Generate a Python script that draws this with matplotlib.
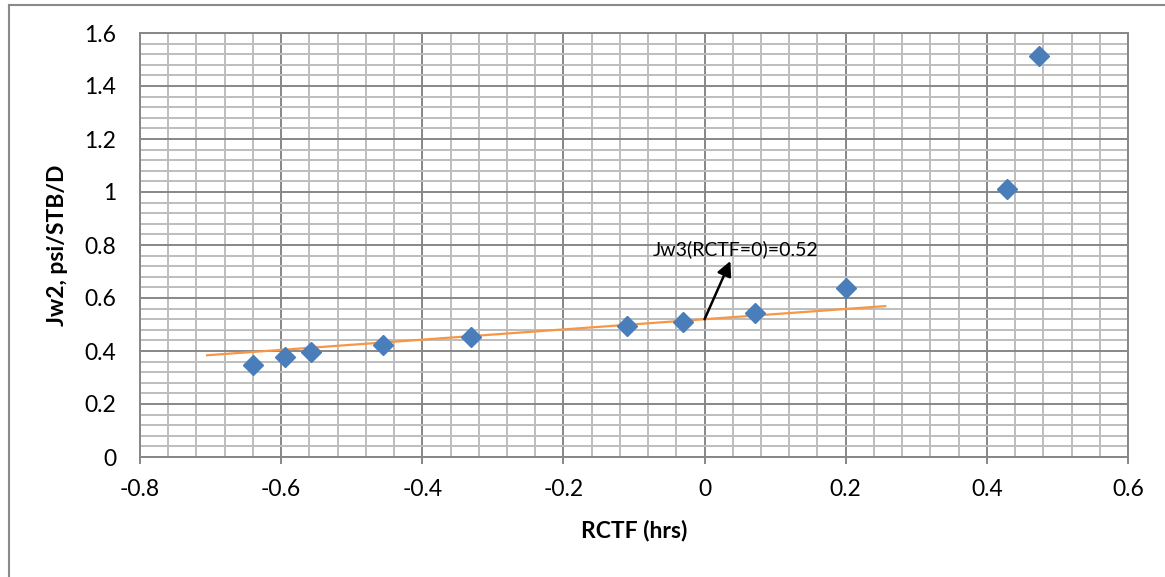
import matplotlib
matplotlib.use("Agg")
import matplotlib.pyplot as plt
from matplotlib.lines import Line2D
from matplotlib.ticker import MultipleLocator, FixedLocator
import numpy as np

plt.rcParams['font.family'] = ['Lato', 'DejaVu Sans']

# Measured well data
rctf = [-0.640, -0.595, -0.558, -0.456, -0.331, -0.110, -0.031, 0.071, 0.200, 0.428, 0.474]
jw2 = [0.347, 0.377, 0.396, 0.423, 0.453, 0.494, 0.509, 0.543, 0.638, 1.011, 1.513]

# Linear trend through the early-time points
trend_x = [-0.705, 0.256]
trend_intercept = 0.52
trend_slope = 0.193

x_ticks = [-0.8, -0.6, -0.4, -0.2, 0.0, 0.2, 0.4, 0.6]
x_tick_labels = ["-0.8", "-0.6", "-0.4", "-0.2", "0", "0.2", "0.4", "0.6"]
y_ticks = [0.0, 0.2, 0.4, 0.6, 0.8, 1.0, 1.2, 1.4, 1.6]
y_tick_labels = ["0", "0.2", "0.4", "0.6", "0.8", "1", "1.2", "1.4", "1.6"]

annot_text = "Jw3(RCTF=0)=0.52"

W, H = 1165, 577
fig = plt.figure(figsize=(W / 100, H / 100), dpi=100)
ax = fig.add_axes([140 / W, 1 - 457 / H, (1128 - 140) / W, (457 - 33) / H])

ax.set_xlim(-0.8, 0.6)
ax.set_ylim(0, 1.6)

major_c = "#878787"
minor_c = "#bdbdbd"

ax.xaxis.set_major_locator(FixedLocator(x_ticks))
ax.yaxis.set_major_locator(FixedLocator(y_ticks))
ax.xaxis.set_minor_locator(MultipleLocator(0.04))
ax.yaxis.set_minor_locator(MultipleLocator(0.04))
ax.set_xticklabels(x_tick_labels)
ax.set_yticklabels(y_tick_labels)

ax.grid(which="minor", color=minor_c, lw=1.4, zorder=0)
ax.grid(which="major", color=major_c, lw=1.4, zorder=0)
ax.set_axisbelow(True)

for s in ax.spines.values():
    s.set_color(major_c)
    s.set_linewidth(1.4)

ax.tick_params(axis="x", which="major", direction="out", length=5, width=1.4,
               color=major_c, pad=11, labelsize=16.5, labelcolor="black")
ax.tick_params(axis="y", which="major", length=0, pad=17, labelsize=16.5, labelcolor="black")
ax.tick_params(which="minor", length=0)

# Trend line
tx = np.array(trend_x)
ax.plot(tx, trend_intercept + trend_slope * tx, color="#F79646", lw=1.6, zorder=3)

# Data points
ax.plot(rctf, jw2, linestyle="none", marker="D", markersize=10,
        color="#4A7EBB", markeredgecolor="#4A7EBB", zorder=4)

# Intercept annotation
ax.annotate(annot_text, xy=(0.0, trend_intercept), xytext=(0.044, 0.75),
            ha="center", va="bottom", fontsize=14, color="black",
            arrowprops=dict(arrowstyle="<|-", color="black", lw=1.8,
                            mutation_scale=22, shrinkA=0, shrinkB=0),
            zorder=5)

ax.set_xlabel("RCTF (hrs)", fontsize=16.5, fontweight="bold", labelpad=14)
ax.set_ylabel("Jw2, psi/STB/D", fontsize=16.5, fontweight="bold", labelpad=12)

# Chart frame
fc = "#8a8a8a"
fig.add_artist(Line2D([8.5 / W, 8.5 / W], [0, 1 - 4.5 / H], color=fc, lw=1.5))
fig.add_artist(Line2D([8.5 / W, 1], [1 - 4.5 / H, 1 - 4.5 / H], color=fc, lw=1.5))

fig.savefig("out.png", dpi=100)
